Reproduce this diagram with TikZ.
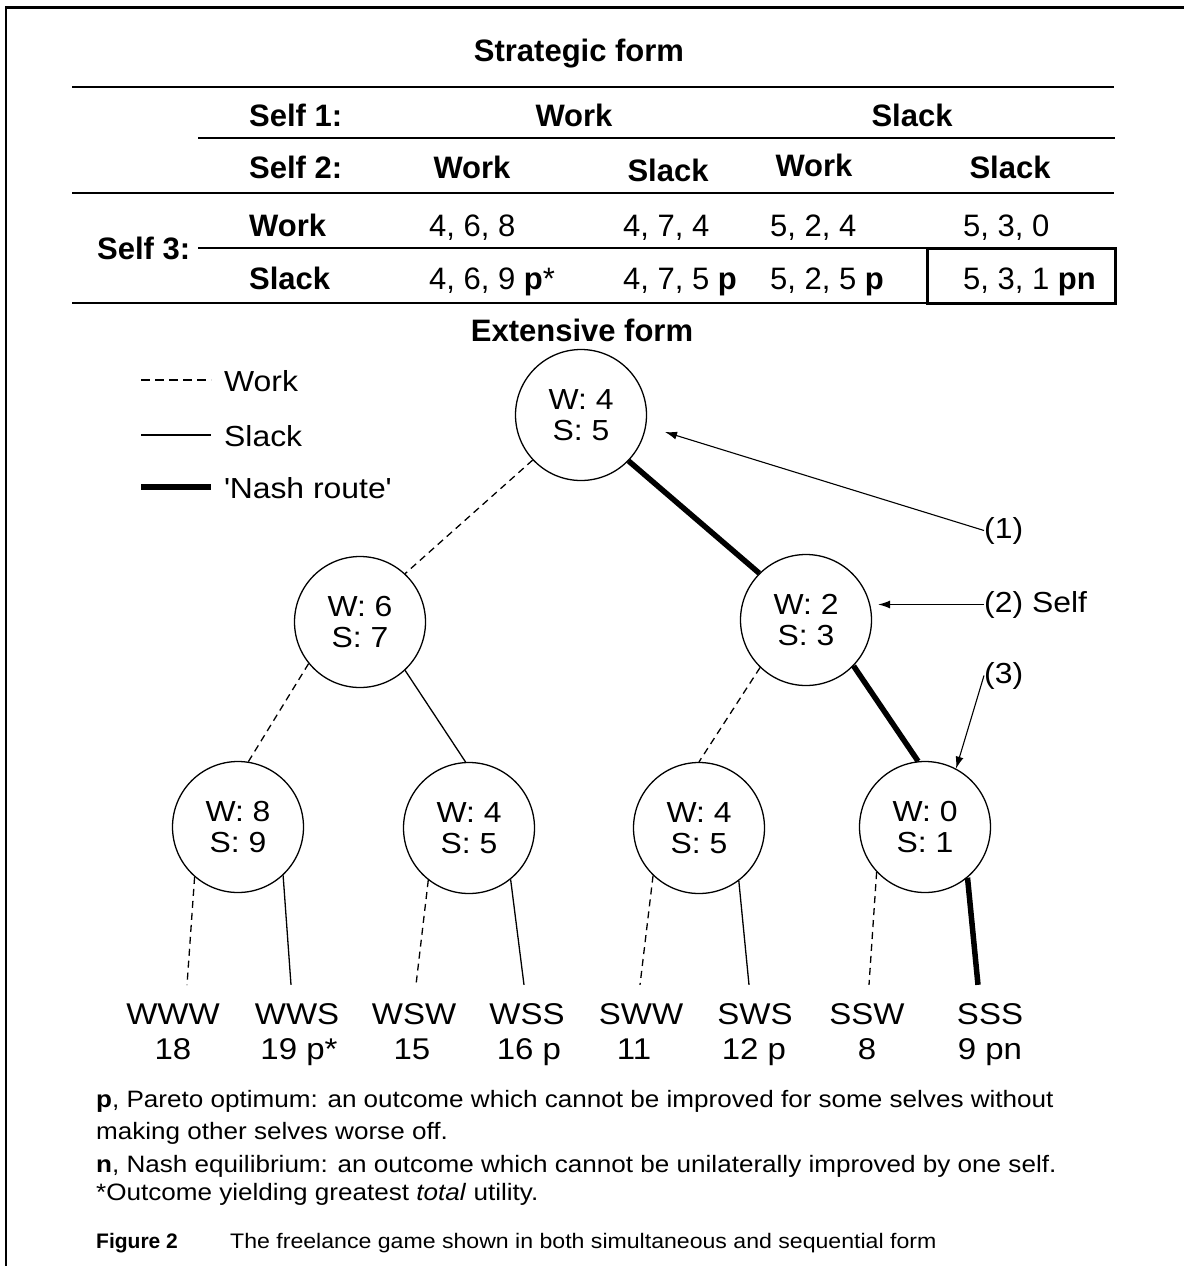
\documentclass[tikz,border=0pt]{standalone}
\usepackage{fontspec}
\setmainfont{Liberation Sans}
\newfontfamily\wide[FakeStretch=1.1]{Liberation Sans}
\usetikzlibrary{arrows.meta}
\begin{document}
\begin{tikzpicture}[x=1pt,y=-1pt,
  tb/.style={font=\fontsize{31}{37}\selectfont\bfseries, inner sep=0pt, anchor=base west},
  tn/.style={font=\fontsize{31}{37}\selectfont, inner sep=0pt, anchor=base west},
  rule/.style={line width=2pt},
  gnode/.style={circle, draw, line width=1.3pt, minimum size=131pt, inner sep=0pt, align=center,
                font=\wide\fontsize{29}{31}\selectfont},
  workl/.style={dash pattern=on 7pt off 5pt, line width=1.3pt},
  slackl/.style={line width=1.3pt},
  nashl/.style={line width=5.5pt},
  leaf/.style={font=\wide\fontsize{30}{34}\selectfont, inner xsep=0pt, inner ysep=18pt, anchor=base},
  leafv/.style={font=\wide\fontsize{30}{34}\selectfont, inner sep=0pt, anchor=base},
  lbl/.style={font=\wide\fontsize{29}{34}\selectfont, inner sep=0pt, anchor=base west},
  ptr/.style={-{Latex[length=12pt,width=8pt]}, line width=1.1pt},
  foot/.style={font=\wide\fontsize{23.7}{28}\selectfont, inner sep=0pt, anchor=base west},
  capt/.style={font=\fontsize{21}{25}\selectfont, inner sep=0pt, anchor=base west},
  captw/.style={font=\wide\fontsize{21}{25}\selectfont, inner sep=0pt, anchor=base west}
]
\useasboundingbox (0,0) rectangle (1184,1266);
\fill[white] (0,0) rectangle (1184,1266);
\draw[line width=2.6pt] (6,1266) -- (6,7.5) -- (1184,7.5);

% ---------- Strategic form ----------
\node[tb, anchor=base] (st) at (579,61) {Strategic form};
\draw[rule] (72,87) -- (1114,87);
\node[tb] (s1) at (249,126) {Self 1:};
\node[tb, anchor=base] (s1w) at (574,126) {Work};
\node[tb, anchor=base] (s1s) at (912,126) {Slack};
\draw[rule] (198,138) -- (1115,138);
\node[tb] (s2) at (249,178) {Self 2:};
\node[tb, anchor=base] (s2ww) at (472,178) {Work};
\node[tb, anchor=base] (s2ws) at (668,181) {Slack};
\node[tb, anchor=base] (s2sw) at (814,176) {Work};
\node[tb, anchor=base] (s2ss) at (1010,178) {Slack};
\draw[rule] (72,193) -- (1114,193);
\node[tb] (s3) at (97,259) {Self 3:};
\node[tb] (rw) at (249,236) {Work};
\node[tn] (c11) at (429,236) {4, 6, 8};
\node[tn] (c12) at (623,236) {4, 7, 4};
\node[tn] (c13) at (770,236) {5, 2, 4};
\node[tn] (c14) at (963,236) {5, 3, 0};
\draw[rule] (198,248) -- (1115,248);
\node[tb] (rs) at (249,289) {Slack};
\node[tn] (c21) at (429,289) {4, 6, 9 \textbf{p}*};
\node[tn] (c22) at (623,289) {4, 7, 5 \textbf{p}};
\node[tn] (c23) at (770,289) {5, 2, 5 \textbf{p}};
\node[tn] (c24) at (963,289) {5, 3, 1 \textbf{pn}};
\draw[line width=3pt] (927,248.5) rectangle (1115,303);
\draw[rule] (72,303) -- (1115,303);

% ---------- Extensive form ----------
\node[tb, anchor=base] (ef) at (582,341) {Extensive form};

% legend
\draw[dash pattern=on 9pt off 5pt, line width=1.3pt] (141,380) -- (211,380);
\draw[slackl] (141,435) -- (211,435);
\draw[nashl] (141,487) -- (211,487);
\node[lbl] (lgw) at (224,391) {Work};
\node[lbl] (lgs) at (224,446) {Slack};
\node[lbl] (lgn) at (224,498) {\textquotesingle Nash route\textquotesingle};

% tree nodes
\node[gnode] (root) at (581,415) {W: 4\\S: 5};
\node[gnode] (L) at (360,622) {W: 6\\S: 7};
\node[gnode] (R) at (806,620) {W: 2\\S: 3};
\node[gnode] (LL) at (238,827) {W: 8\\S: 9};
\node[gnode] (LR) at (469,828) {W: 4\\S: 5};
\node[gnode] (RL) at (699,828) {W: 4\\S: 5};
\node[gnode] (RR) at (925,827) {W: 0\\S: 1};

% leaves
\node[leaf] (www) at (173,1024) {WWW};
\node[leaf] (wws) at (297,1024) {WWS};
\node[leaf] (wsw) at (414,1024) {WSW};
\node[leaf] (wss) at (527,1024) {WSS};
\node[leaf] (sww) at (641,1024) {SWW};
\node[leaf] (sws) at (755,1024) {SWS};
\node[leaf] (ssw) at (867,1024) {SSW};
\node[leaf] (sss) at (990,1024) {SSS};
\node[leafv] (vwww) at (173,1059) {18};
\node[leafv] (vwws) at (299,1059) {19 p*};
\node[leafv] (vwsw) at (412,1059) {15};
\node[leafv] (vwss) at (529,1059) {16 p};
\node[leafv] (vsww) at (634,1059) {11};
\node[leafv] (vsws) at (754,1059) {12 p};
\node[leafv] (vssw) at (867,1059) {8};
\node[leafv] (vsss) at (990,1059) {9 pn};

% edges
\draw[workl] (root.-137) -- (L.47);
\draw[nashl] (root.-44) -- (R.135);
\draw[workl] (L.-141) -- (LL.81);
\draw[slackl] (L.-47) -- (LR.93);
\draw[workl] (R.-134) -- (RL.90);
\draw[nashl] (R.-44) -- (RR.96);
\draw[workl] (LL.-131) -- ([xshift=14pt]www.north);
\draw[slackl] (LL.-47) -- ([xshift=-6pt]wws.north);
\draw[workl] (LR.-128) -- ([xshift=2pt]wsw.north);
\draw[slackl] (LR.-51) -- ([xshift=-3pt]wss.north);
\draw[workl] (RL.-134) -- ([xshift=-1pt]sww.north);
\draw[slackl] (RL.-53) -- ([xshift=-6pt]sws.north);
\draw[workl] (RR.-137) -- ([xshift=2pt]ssw.north);
\draw[nashl] (RR.-50) -- ([xshift=-12pt]sss.north);

% annotations
\node[lbl] (l1) at (984,538) {(1)};
\node[lbl] (l2) at (984,612) {(2) Self};
\node[lbl] (l3) at (984,683) {(3)};
\coordinate (a1) at (665,432);
\draw[ptr] (l1.west) -- (a1);
\draw[ptr, shorten >=6pt] (l2.west) -- (l2.west -| R.east);
\draw[ptr] (l3.west) -- (RR.62);

% footnotes
\node[foot] (f1) at (96,1107) {\textbf{p}, Pareto optimum: an outcome which cannot be improved for some selves without};
\node[foot] (f2) at (96,1139) {making other selves worse off.};
\node[foot] (f3) at (96,1172) {\textbf{n}, Nash equilibrium: an outcome which cannot be unilaterally improved by one self.};
\node[foot] (f4) at (96,1200) {*Outcome yielding greatest \textit{total} utility.};
\node[capt] (cap1) at (96,1248) {\textbf{Figure 2}};
\node[captw] (cap2) at (230,1248) {The freelance game shown in both simultaneous and sequential form};
\end{tikzpicture}
\end{document}
